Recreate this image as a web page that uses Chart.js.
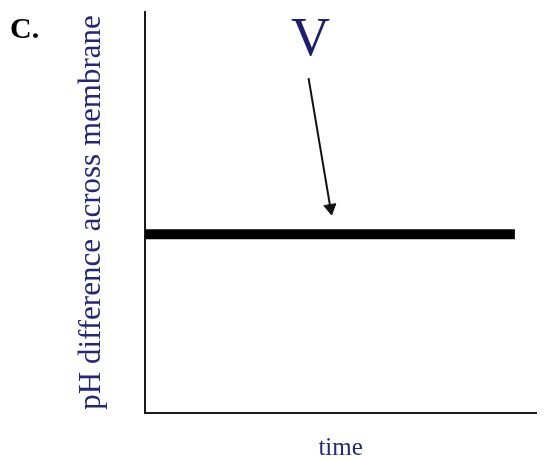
<!DOCTYPE html>
<html>
<head>
<meta charset="utf-8">
<script src="https://cdn.jsdelivr.net/npm/chart.js@4/dist/chart.umd.min.js"></script>
<style>
  html, body { margin: 0; padding: 0; background: #fff; }
  #wrap { width: 544px; height: 461px; }
</style>
</head>
<body>
<div id="wrap"><canvas id="phChart"></canvas></div>
<script>
// Données (échelle arbitraire 0-100)
const timeValues = [0, 94.6];
const phValues = [44.6, 44.6];

// Flèche qui pointe sur la courbe
const arrowX = [41.8, 47.4];
const arrowY = [83.5, 51.1];

// Étiquette au-dessus de la flèche
const markerText = 'V';
const markerX = 42.3;
const markerY = 89.3;

const panelLetter = 'C.';
const xTitle = 'time';
const yTitle = 'pH difference across membrane';

const navy = '#27277a';

// Petit plugin pour les textes libres (lettre du panneau + "V")
const labelsPlugin = {
    id: 'freeLabels',
    afterDraw(chart) {
        const ctx = chart.ctx;
        const xs = chart.scales.x;
        const ys = chart.scales.y;
        ctx.save();
        ctx.fillStyle = '#000';
        ctx.font = 'bold 30px "Liberation Serif", serif';
        ctx.textAlign = 'left';
        ctx.textBaseline = 'alphabetic';
        ctx.fillText(panelLetter, 10, 38);

        ctx.fillStyle = '#1e1e6e';
        ctx.font = '54px "Liberation Serif", serif';
        ctx.textAlign = 'center';
        ctx.fillText(markerText, xs.getPixelForValue(markerX), ys.getPixelForValue(markerY));
        ctx.restore();
    }
};

document.addEventListener('DOMContentLoaded', function () {
    const ctx = document.getElementById('phChart');
    new Chart(ctx, {
        type: 'line',
        data: {
            datasets: [
                {
                    data: timeValues.map((t, i) => ({ x: t, y: phValues[i] })),
                    borderColor: '#000',
                    borderWidth: 10,
                    borderCapStyle: 'butt',
                    pointRadius: 0,
                    fill: false
                },
                {
                    data: arrowX.map((v, i) => ({ x: v, y: arrowY[i] })),
                    borderColor: '#111',
                    borderWidth: 2,
                    pointStyle: 'triangle',
                    pointRadius: [0, 7],
                    pointRotation: [0, 170.5],
                    pointBackgroundColor: '#111',
                    pointBorderColor: '#111',
                    pointBorderWidth: 1,
                    fill: false
                }
            ]
        },
        options: {
            responsive: true,
            maintainAspectRatio: false,
            animation: false,
            layout: {
                padding: { left: 0, top: 12, right: 0, bottom: 0 }
            },
            plugins: {
                legend: { display: false },
                tooltip: { enabled: false }
            },
            scales: {
                x: {
                    type: 'linear',
                    min: 0,
                    max: 100,
                    grid: { display: false },
                    ticks: { display: false },
                    border: { display: true, color: '#1a1a1a', width: 2 },
                    title: {
                        display: true,
                        text: xTitle,
                        color: navy,
                        font: { family: '"Liberation Serif", serif', size: 25, lineHeight: 1 },
                        padding: { top: 15, bottom: 0 }
                    }
                },
                y: {
                    type: 'linear',
                    min: 0,
                    max: 100,
                    grid: { display: false },
                    ticks: { display: false },
                    border: { display: true, color: '#1a1a1a', width: 2 },
                    title: {
                        display: true,
                        text: yTitle,
                        color: navy,
                        font: { family: '"Liberation Serif", serif', size: 31, lineHeight: 1.2 },
                        padding: { top: 73, bottom: 27 }
                    }
                }
            }
        },
        plugins: [labelsPlugin]
    });
});
</script>
</body>
</html>
